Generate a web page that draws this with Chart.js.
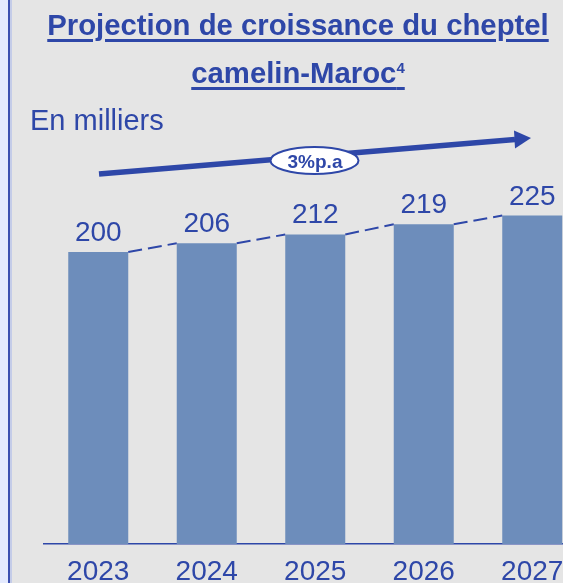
<!DOCTYPE html>
<html>
<head>
<meta charset="utf-8">
<script src="https://cdn.jsdelivr.net/npm/chart.js@4.4.0/dist/chart.umd.min.js"></script>
<style>
  html, body { margin: 0; padding: 0; }
  body { width: 563px; height: 583px; overflow: hidden; position: relative; background: #e5e5e5; font-family: "Liberation Sans", Arial, sans-serif; }
  #stripe { position: absolute; left: 0; top: 0; width: 8px; height: 583px; background: #e4eafe; border-right: 2px solid #3b4fb0; }
  #stripe2 { position: absolute; left: 10px; top: 0; width: 2px; height: 583px; background: #c4cce8; }
  #title { position: absolute; left: 33px; top: 1px; width: 530px; text-align: center; color: #2e47a8; font-weight: bold; font-size: 29.3px; line-height: 48px; }
  #title span { text-decoration: underline; text-decoration-thickness: 2.5px; text-underline-offset: 4px; }
  #title sup { font-size: 15px; vertical-align: 10px; line-height: 0; }
  #unit { position: absolute; left: 30px; top: 106px; color: #2e47a8; font-size: 29px; line-height: 29px; }
  #wrap { position: absolute; left: 0; top: 0; width: 600px; height: 583px; }
</style>
</head>
<body>
<div id="stripe"></div>
<div id="stripe2"></div>
<div id="wrap"><canvas id="chart1" width="600" height="583"></canvas></div>
<div id="title"><span>Projection de croissance du cheptel</span><br><span>camelin-Maroc<sup>4</sup></span></div>
<div id="unit">En milliers</div>
<script>
// data
let years = ['2023', '2024', '2025', '2026', '2027'];
let cheptel = [200, 206, 212, 219, 225];
let growthLabel = '3%p.a';

let blue = '#2e47a8';
let barColor = '#6d8dbb';

const labelsPlugin = {
  id: 'labelsPlugin',
  afterDatasetsDraw(chart) {
    const ctx = chart.ctx;
    const meta = chart.getDatasetMeta(0);
    ctx.save();
    // dashed line between bar tops
    ctx.strokeStyle = blue;
    ctx.lineWidth = 2;
    ctx.setLineDash([14, 6]);
    for (let i = 0; i < meta.data.length - 1; i++) {
      const a = meta.data[i], b = meta.data[i + 1];
      ctx.beginPath();
      ctx.moveTo(a.x + a.width / 2, a.y);
      ctx.lineTo(b.x - b.width / 2, b.y);
      ctx.stroke();
    }
    ctx.setLineDash([]);
    // values above bars
    ctx.fillStyle = blue;
    ctx.font = '28px "Liberation Sans", Arial, sans-serif';
    ctx.textAlign = 'center';
    ctx.textBaseline = 'alphabetic';
    meta.data.forEach((bar, i) => {
      ctx.fillText(cheptel[i], bar.x, bar.y - 11);
    });

    // growth arrow
    ctx.strokeStyle = blue;
    ctx.lineWidth = 5.5;
    ctx.beginPath();
    ctx.moveTo(99, 174);
    ctx.lineTo(515, 139.5);
    ctx.stroke();
    ctx.fillStyle = blue;
    ctx.beginPath();
    ctx.moveTo(531, 138);
    ctx.lineTo(514, 130.5);
    ctx.lineTo(515, 148.5);
    ctx.closePath();
    ctx.fill();

    ctx.beginPath();
    ctx.ellipse(314.5, 160.5, 44, 13.5, 0, 0, Math.PI * 2);
    ctx.fillStyle = '#ffffff';
    ctx.fill();
    ctx.lineWidth = 2;
    ctx.strokeStyle = blue;
    ctx.stroke();
    ctx.fillStyle = blue;
    ctx.font = 'bold 19px "Liberation Sans", Arial, sans-serif';
    ctx.fillText(growthLabel, 315, 167.5);
    ctx.restore();
  }
};

document.addEventListener('DOMContentLoaded', function () {
  const ctx = document.getElementById('chart1').getContext('2d');
  new Chart(ctx, {
    type: 'bar',
    data: {
      labels: years,
      datasets: [{
        data: cheptel,
        backgroundColor: barColor,
        borderWidth: 0,
        barPercentage: 0.553,
        categoryPercentage: 1
      }]
    },
    options: {
      responsive: false,
      animation: false,
      layout: { padding: { left: 44, right: 13.5, top: 179, bottom: 0 } },
      plugins: {
        legend: { display: false },
        tooltip: { enabled: false }
      },
      scales: {
        x: {
          grid: { display: false, drawTicks: false },
          border: { display: true, color: blue, width: 1.5 },
          ticks: {
            color: blue,
            padding: 11,
            font: { family: '"Liberation Sans", Arial, sans-serif', size: 28 }
          },
          afterFit: function (axis) { axis.height = 39; }
        },
        y: {
          display: false,
          min: 0,
          max: 250
        }
      }
    },
    plugins: [labelsPlugin]
  });
});
</script>
</body>
</html>
